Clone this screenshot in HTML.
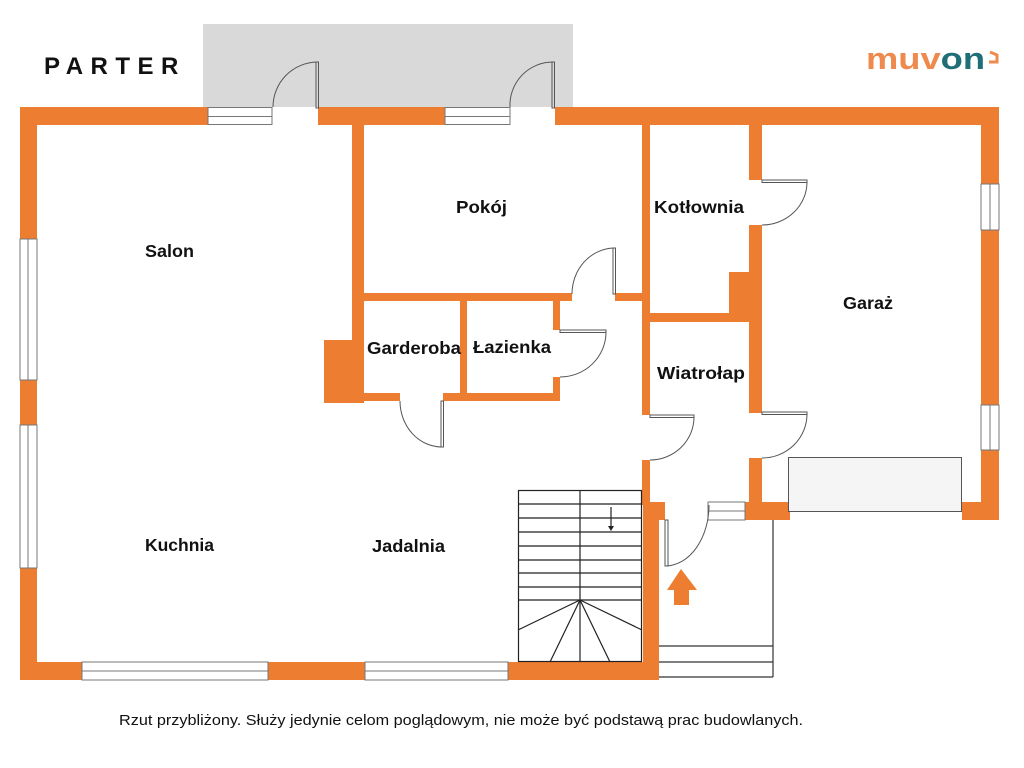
<!DOCTYPE html>
<html><head><meta charset="utf-8"><style>
html,body{margin:0;padding:0;background:#fff;width:1024px;height:768px;overflow:hidden}
svg{display:block}
text{font-family:"Liberation Sans",sans-serif;font-weight:bold;fill:#111}
</style></head><body>
<svg width="1024" height="768" viewBox="0 0 1024 768" xmlns="http://www.w3.org/2000/svg">
<rect x="203" y="24" width="370" height="83" fill="#d9d9d9"/>
<g fill="#ED7D31">
<rect x="20" y="107" width="188" height="18"/>
<rect x="318" y="107" width="127" height="18"/>
<rect x="555" y="107" width="444" height="18"/>
<rect x="20" y="107" width="17" height="132"/>
<rect x="20" y="380" width="17" height="45"/>
<rect x="20" y="568" width="17" height="112"/>
<rect x="20" y="662" width="62" height="18"/>
<rect x="268" y="662" width="97" height="18"/>
<rect x="508" y="662" width="150" height="18"/>
<rect x="981" y="107" width="18" height="77"/>
<rect x="981" y="230" width="18" height="175"/>
<rect x="981" y="450" width="18" height="70"/>
<rect x="962" y="502" width="37" height="18"/>
<rect x="352" y="125" width="12" height="278"/>
<rect x="324" y="340" width="40" height="63"/>
<rect x="363" y="293" width="209" height="8"/>
<rect x="615" y="293" width="30" height="8"/>
<rect x="460" y="300" width="7" height="96"/>
<rect x="363" y="393" width="37" height="8"/>
<rect x="443" y="393" width="117" height="8"/>
<rect x="553" y="300" width="7" height="30"/>
<rect x="553" y="377" width="7" height="24"/>
<rect x="642" y="125" width="8" height="290"/>
<rect x="642" y="460" width="8" height="45"/>
<rect x="643" y="502" width="16" height="178"/>
<rect x="643" y="502" width="22" height="18"/>
<rect x="749" y="125" width="13" height="55"/>
<rect x="749" y="225" width="13" height="188"/>
<rect x="729" y="272" width="33" height="45"/>
<rect x="650" y="313" width="112" height="9"/>
<rect x="749" y="458" width="13" height="62"/>
<rect x="745" y="502" width="45" height="18"/>
<polygon points="681,569 697,590 689,590 689,605 674,605 674,590 667,590"/>
</g>
<g fill="#fff" stroke="#777" stroke-width="1">
<rect x="208" y="107.5" width="64" height="9"/>
<rect x="208" y="116.5" width="64" height="8"/>
<rect x="445" y="107.5" width="65" height="9"/>
<rect x="445" y="116.5" width="65" height="8"/>
<rect x="20" y="239" width="9" height="141"/>
<rect x="28" y="239" width="9" height="141"/>
<rect x="20" y="425" width="9" height="143"/>
<rect x="28" y="425" width="9" height="143"/>
<rect x="82" y="662" width="186" height="9"/>
<rect x="82" y="671" width="186" height="9"/>
<rect x="365" y="662" width="143" height="9"/>
<rect x="365" y="671" width="143" height="9"/>
<rect x="981" y="184" width="9" height="46"/>
<rect x="990" y="184" width="9" height="46"/>
<rect x="981" y="405" width="9" height="45"/>
<rect x="990" y="405" width="9" height="45"/>
<rect x="708" y="502" width="37" height="9"/>
<rect x="708" y="511" width="37" height="9"/>
</g>
<g fill="none" stroke="#555" stroke-width="1">
<rect x="316" y="62" width="2.5" height="46"/>
<path d="M273,107 A45,45 0 0 1 317,62"/>
<rect x="552" y="62" width="2.5" height="46"/>
<path d="M510,107 A43,43 0 0 1 553,62"/>
<rect x="613" y="248" width="2.5" height="46"/>
<path d="M572,294 A43,46 0 0 1 614,248"/>
<rect x="762" y="180" width="45" height="2.5"/>
<path d="M807,182 A45,43 0 0 1 762,225"/>
<rect x="762" y="412" width="45" height="2.5"/>
<path d="M807,414 A45,44 0 0 1 762,458"/>
<rect x="650" y="415" width="44" height="2.5"/>
<path d="M694,417 A44,43 0 0 1 650,460"/>
<rect x="560" y="330" width="46" height="2.5"/>
<path d="M606,332 A46,45 0 0 1 560,377"/>
<rect x="441" y="401" width="2.5" height="46"/>
<path d="M400,401 A42,46 0 0 0 442,447"/>
<rect x="665" y="520" width="3" height="46"/>
<path d="M709,505 A44,61 0 0 1 666,566"/>
</g>
<rect x="788.5" y="457.5" width="173" height="54" fill="#f5f5f5" stroke="#555"/>
<g stroke="#222" stroke-width="1.2" fill="none">
<rect x="518.5" y="490.5" width="123" height="171"/>
<line x1="580" y1="490" x2="580" y2="662"/>
<line x1="518" y1="504" x2="642" y2="504"/>
<line x1="518" y1="518" x2="642" y2="518"/>
<line x1="518" y1="532" x2="642" y2="532"/>
<line x1="518" y1="546" x2="642" y2="546"/>
<line x1="518" y1="560" x2="642" y2="560"/>
<line x1="518" y1="573" x2="642" y2="573"/>
<line x1="518" y1="587" x2="642" y2="587"/>
<line x1="518" y1="600" x2="642" y2="600"/>
<line x1="580" y1="600" x2="518" y2="630"/>
<line x1="580" y1="600" x2="550" y2="662"/>
<line x1="580" y1="600" x2="610" y2="662"/>
<line x1="580" y1="600" x2="642" y2="630"/>
<line x1="611" y1="507" x2="611" y2="528"/>
</g>
<polygon points="608,526 614,526 611,531" fill="#222"/>
<g stroke="#333" stroke-width="1.2" fill="none">
<line x1="773" y1="520" x2="773" y2="677"/>
<line x1="659" y1="646" x2="773" y2="646"/>
<line x1="659" y1="662" x2="773" y2="662"/>
<line x1="659" y1="677" x2="773" y2="677"/>
</g>
<text x="44" y="74" font-size="24" letter-spacing="7.5">PARTER</text>
<text x="145" y="257" font-size="17.5" textLength="49" lengthAdjust="spacingAndGlyphs">Salon</text>
<text x="456" y="213" font-size="17.5" textLength="51" lengthAdjust="spacingAndGlyphs">Pokój</text>
<text x="654" y="213" font-size="17.5" textLength="90" lengthAdjust="spacingAndGlyphs">Kotłownia</text>
<text x="843" y="309" font-size="17.5" textLength="50" lengthAdjust="spacingAndGlyphs">Garaż</text>
<text x="367" y="354" font-size="17.5" textLength="94" lengthAdjust="spacingAndGlyphs">Garderoba</text>
<text x="473" y="353" font-size="17.5" textLength="78" lengthAdjust="spacingAndGlyphs">Łazienka</text>
<text x="657" y="379" font-size="17.5" textLength="88" lengthAdjust="spacingAndGlyphs">Wiatrołap</text>
<text x="145" y="551" font-size="17.5" textLength="69" lengthAdjust="spacingAndGlyphs">Kuchnia</text>
<text x="372" y="552" font-size="17.5" textLength="73" lengthAdjust="spacingAndGlyphs">Jadalnia</text>
<text x="119" y="725" font-size="14.5" textLength="684" lengthAdjust="spacingAndGlyphs" style="font-weight:normal">Rzut przybliżony. Służy jedynie celom poglądowym, nie może być podstawą prac budowlanych.</text>
<text x="866" y="69" font-size="31" textLength="119" lengthAdjust="spacingAndGlyphs" style="fill:#EE8A4E">muv<tspan style="fill:#1f6e78">on</tspan></text>
<path d="M990,52 L997,55 L997,62 L989,62" fill="none" stroke="#EE8A4E" stroke-width="3"/>
</svg>
</body></html>
